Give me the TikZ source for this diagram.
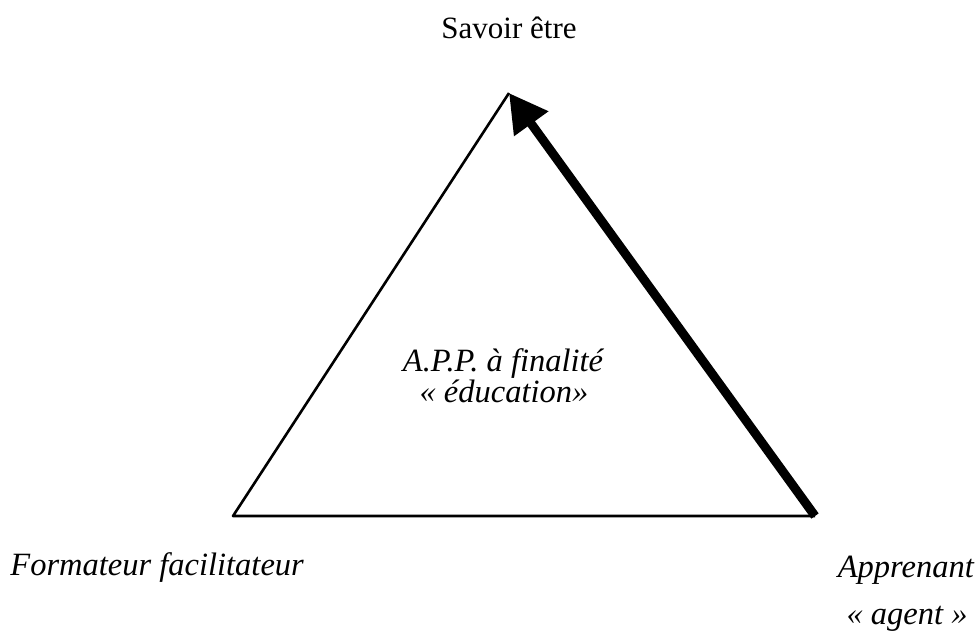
\documentclass[tikz,border=0pt]{standalone}
\usepackage{fontspec}
\setmainfont{Liberation Serif}
\usetikzlibrary{arrows.meta}
\tikzset{
  lbl/.style={inner sep=0pt, anchor=base, font=\fontsize{31}{36}\selectfont},
  ilbl/.style={lbl, font=\fontsize{32.5}{38}\selectfont\itshape},
  side/.style={line width=2.6pt},
  bigarrow/.style={line width=9pt, -{Triangle[length=38pt,width=40pt]}}
}
\begin{document}
\begin{tikzpicture}[x=1pt,y=-1pt]
\useasboundingbox (0,0) rectangle (976,635);
\coordinate (apex) at (509,93);
\coordinate (bl) at (233,516);
\coordinate (br) at (815,516);
\draw[side, line join=round] (br) -- (bl) -- (apex);
\draw[bigarrow] (br) -- (apex);
\node[lbl] (top) at (509,38) {Savoir être};
\node[ilbl] (c1) at (503,371) {A.P.P. à finalité};
\node[ilbl] (c2) at (504,402) {« éducation»};
\node[ilbl, anchor=base east] (fl) at (304,575) {Formateur facilitateur};
\node[ilbl, anchor=base east] (ap) at (974,577) {Apprenant};
\node[ilbl] (ag) at (907,624) {« agent »};
\end{tikzpicture}
\end{document}
